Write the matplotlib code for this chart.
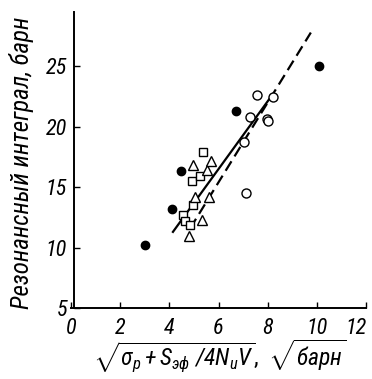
import matplotlib
matplotlib.use("Agg")
import matplotlib.pyplot as plt

FONT = 'Roboto Condensed'
plt.rcParams['font.family'] = [FONT, 'Fira Sans Condensed', 'DejaVu Sans']
plt.rcParams['mathtext.fontset'] = 'custom'
plt.rcParams['mathtext.it'] = FONT + ':italic'
plt.rcParams['mathtext.rm'] = FONT + ':italic'
plt.rcParams['mathtext.sf'] = FONT + ':italic'
plt.rcParams['mathtext.default'] = 'it'

# measured points, grouped by marker type
filled_x = [3.0, 4.1, 4.47, 6.71, 10.09]
filled_y = [10.2, 13.2, 16.3, 21.3, 25.0]

open_x = [7.55, 8.22, 7.27, 7.95, 8.02, 7.03, 7.12]
open_y = [22.6, 22.5, 20.8, 20.65, 20.45, 18.7, 14.55]

square_x = [5.38, 4.91, 5.25, 4.95, 4.55, 4.65, 4.85]
square_y = [17.95, 15.5, 15.95, 13.5, 12.7, 12.2, 11.9]

triangle_x = [4.97, 5.52, 5.68, 5.05, 5.6, 5.31, 4.81]
triangle_y = [16.8, 16.45, 17.2, 14.2, 14.2, 12.3, 10.95]

# fitted trends
solid_x = [4.15, 8.1]
solid_y = [11.3, 22.4]
dashed_x = [4.85, 9.75]
dashed_y = [11.6, 27.8]

x_ticks = [0, 2, 4, 6, 8, 10, 12]
y_ticks = [5, 10, 15, 20, 25]

W, H = 372, 379
fig = plt.figure(figsize=(W / 100, H / 100), dpi=100)
x0_px = 70.75
unit_px = 24.625
ax = fig.add_axes([x0_px / W, 71 / H, 12 * unit_px / W, (379 - 71 - 12) / H])
ax.set_xlim(0, 12)
ax.set_ylim(5, 29.5)

ax.plot(solid_x, solid_y, color='black', lw=1.6, zorder=2)
ax.plot(dashed_x, dashed_y, color='black', lw=1.6, linestyle=(0, (5, 2.6)), zorder=2)

ms = 6
ax.plot(filled_x, filled_y, 'o', color='black', ms=ms, zorder=3)
ax.plot(open_x, open_y, 'o', mfc='white', mec='black', mew=1.0, ms=ms + 0.5, zorder=3)
ax.plot(square_x, square_y, 's', mfc='white', mec='black', mew=1.0, ms=ms, zorder=3)
ax.plot(triangle_x, triangle_y, '^', mfc='white', mec='black', mew=1.0, ms=ms + 1, zorder=3)

for s in ['top', 'right']:
    ax.spines[s].set_visible(False)
ax.spines['left'].set_position(('data', 0.13))
ax.spines['left'].set_linewidth(1.4)
ax.spines['bottom'].set_linewidth(1.4)

ax.set_xticks(x_ticks)
ax.set_yticks(y_ticks)
ax.set_xticklabels([str(v) for v in x_ticks], fontsize=16, style='italic')
ax.set_yticklabels([str(v) for v in y_ticks], fontsize=16, style='italic')
ax.tick_params(direction='in', length=4, width=1.0, pad=5)
ax.tick_params(axis='x', pad=7)
ax.get_xticklabels()[-1].set_horizontalalignment('right')

ax.set_ylabel('Резонансный интеграл, барн', fontsize=18, style='italic')
ax.yaxis.set_label_coords(-0.125, 0.49)
ax.set_xlabel(r'$\sqrt{\sigma_p + S_{эф}\ /4N_u V}$,  $\sqrt{барн}$', fontsize=17)
ax.xaxis.set_label_coords(0.505, -0.1)

fig.savefig('out.png', dpi=100)
